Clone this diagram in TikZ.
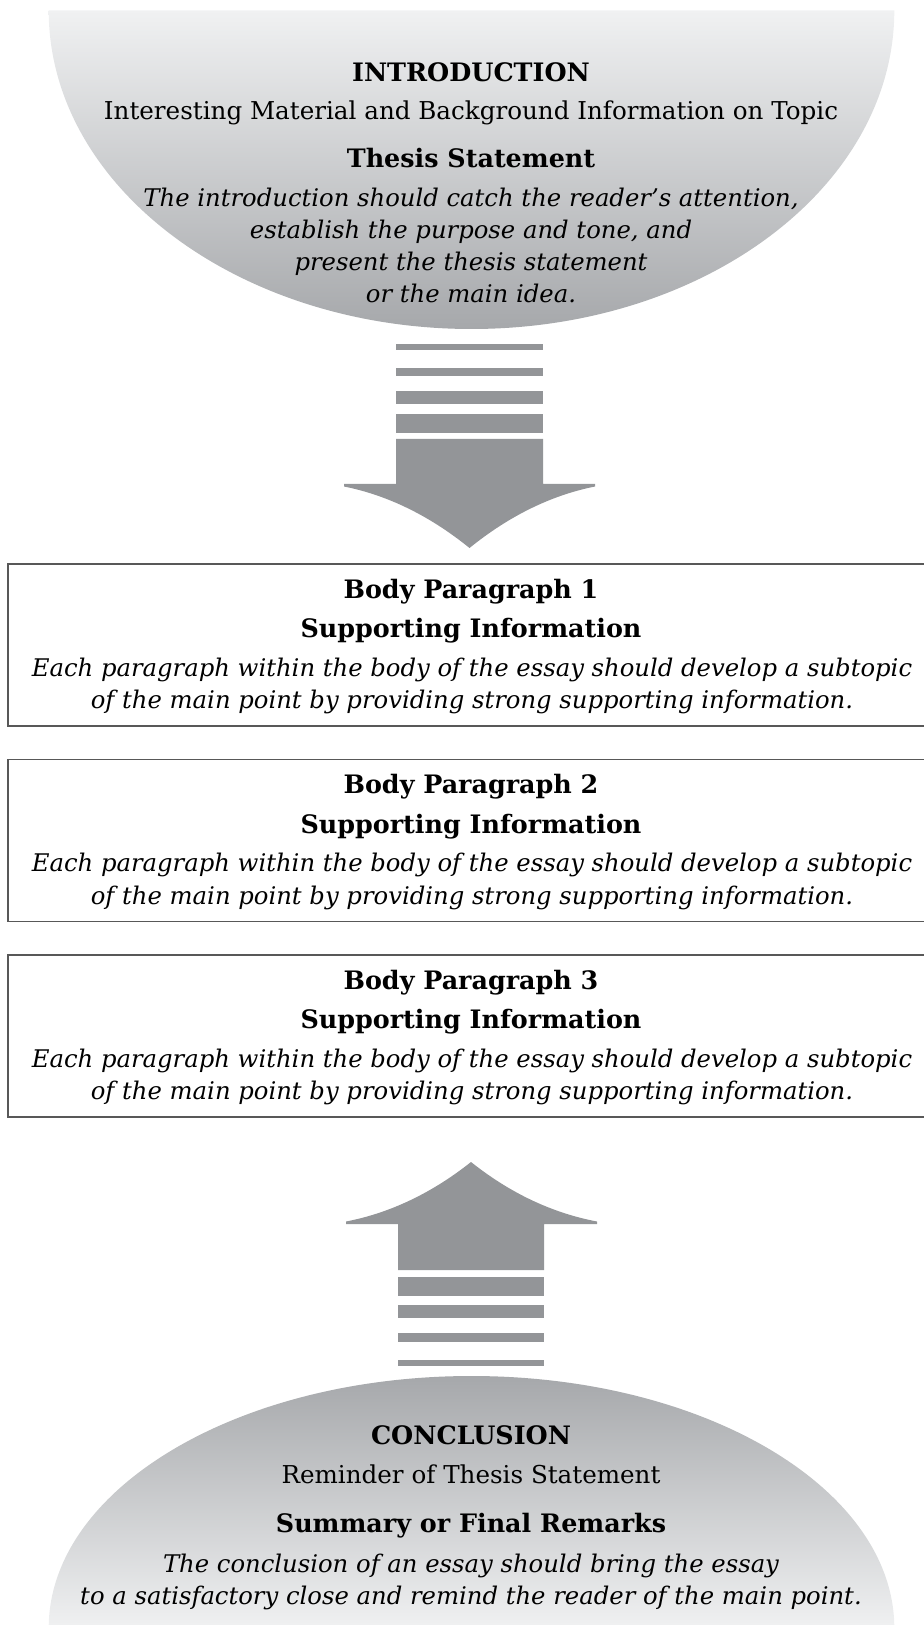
\documentclass[tikz,border=0pt]{standalone}
\usepackage{fontspec}
\setmainfont{DejaVu Serif}
\usepackage{xcolor}

\definecolor{arrowgray}{RGB}{147,149,152}
\definecolor{shadelight}{RGB}{240,241,242}
\definecolor{shadedark}{RGB}{166,168,171}
\definecolor{boxline}{RGB}{88,88,88}

\tikzset{
  headtext/.style={font=\fontsize{12.7}{16}\selectfont\bfseries, anchor=base, inner sep=0pt},
  plaintext/.style={font=\fontsize{12.3}{16}\selectfont, anchor=base, inner sep=0pt},
  desctext/.style={font=\fontsize{12.15}{16}\selectfont\itshape, anchor=base, inner sep=0pt},
  bodybox/.style={draw=boxline, line width=0.75pt},
}

\begin{document}
\begin{tikzpicture}[x=0.5pt, y=-0.5pt]
\clip (0,0) rectangle (924,1625);

% introduction
\shade[top color=shadelight, bottom color=shadedark]
  (48.7,10.5) arc[start angle=180, end angle=0, x radius=422.8, y radius=318.5] -- cycle;
\node[headtext] (intro) at (471,81.5) {INTRODUCTION};
\node[plaintext] (introbg) at (471,120) {Interesting Material and Background Information on Topic};
\node[headtext] (thesis) at (471,167.3) {Thesis Statement};
\foreach \t [count=\i] in {{The introduction should catch the reader’s attention,},
    {establish the purpose and tone, and}, {present the thesis statement}, {or the main idea.}}
  \node[desctext] (introdesc\i) at (471,{207+32*(\i-1)}) {\t};

% down arrow
\foreach \a/\b in {344/350, 368/376, 391/404, 414/433}
  \fill[arrowgray] (396,\a) rectangle (543,\b);
\fill[arrowgray] (396,439) -- (396,484) -- (344,484) -- (344,486.5)
  .. controls (388,495.3) and (430,516) .. (469.5,548)
  .. controls (509,516) and (551,495.3) .. (595,486.5) -- (595,484) -- (543,484)
  -- (543,439) -- cycle;

% body paragraphs
\foreach \n/\top in {1/564, 2/759.5, 3/955} {
  \draw[bodybox] (8,\top) rectangle (940,\top+162);
  \node[headtext] (bodyhead\n) at (471,\top+34.2) {Body Paragraph \n};
  \node[headtext] (bodysub\n) at (471,\top+73.5) {Supporting Information};
  \node[desctext] (bodydesca\n) at (472,\top+112.4) {Each paragraph within the body of the essay should develop a subtopic};
  \node[desctext] (bodydescb\n) at (472,\top+144.6) {of the main point by providing strong supporting information.};
}

% up arrow
\foreach \a/\b in {1277/1296, 1305/1318, 1333/1342, 1360/1366}
  \fill[arrowgray] (398,\a) rectangle (544,\b);
\fill[arrowgray] (398,1270) -- (398,1224) -- (346,1224) -- (346,1221.5)
  .. controls (390,1213) and (432,1193) .. (471,1162)
  .. controls (510,1193) and (552,1213) .. (597,1221.5) -- (597,1224) -- (544,1224)
  -- (544,1270) -- cycle;

% conclusion
\shade[top color=shadedark, bottom color=shadelight]
  (48.7,1628) arc[start angle=180, end angle=360, x radius=422.8, y radius=252] -- cycle;
\node[headtext] (concl) at (471,1444.5) {CONCLUSION};
\node[plaintext] (reminder) at (471,1483.4) {Reminder of Thesis Statement};
\node[headtext] (summary) at (471,1532.5) {Summary or Final Remarks};
\node[desctext] (concldesca) at (471,1572.5) {The conclusion of an essay should bring the essay};
\node[desctext] (concldescb) at (471,1604.6) {to a satisfactory close and remind the reader of the main point.};
\end{tikzpicture}
\end{document}
